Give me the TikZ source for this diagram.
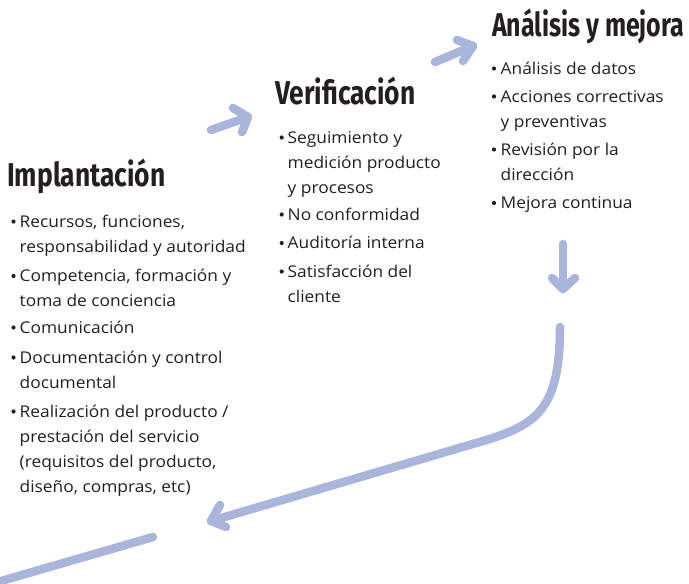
\documentclass[tikz,border=0pt]{standalone}
\usepackage{graphicx}
\usepackage{fontspec}
\setmainfont{Open Sans}[FakeStretch=1.07]
\newfontfamily\titlefont[FakeStretch=0.80]{Fira Sans}
\definecolor{arrowblue}{HTML}{A9B5DA}
\definecolor{ink}{HTML}{231F20}
\begin{document}
\begin{tikzpicture}[x=1pt,y=-1pt,
  title/.style={font=\titlefont\bfseries\fontsize{33}{33}\selectfont, text=ink, inner sep=0pt, anchor=base west},
  body/.style={font=\fontsize{16.2}{25}\selectfont, text=ink, inner sep=0pt, anchor=base west},
  dot/.style={fill=ink},
  flow/.style={draw=arrowblue, line width=8.5pt, line cap=round, line join=round}]
\useasboundingbox (0,0) rectangle (689,584);
\clip (0,0) rectangle (689,584);

% ---------- titles
\node[title] (tImp) at (7,186) {Implantación};
\node[title] (tVer) at (275,104) {Verificación};
\node[title] (tAna) at (492,36) {\scalebox{0.945}[1]{Análisis y mejora}};

% ---------- Implantación
\foreach \y in {227,281.5,333,363,417} \fill[dot] (13.5,\y-5.5) circle[radius=2.1pt];
\node[body] (i1a) at (19.5,227) {Recursos, funciones,};
\node[body] (i1b) at (19.5,252) {responsabilidad y autoridad};
\node[body] (i2a) at (19.5,281.5) {Competencia, formación y};
\node[body] (i2b) at (19.5,306.5) {toma de conciencia};
\node[body] (i3a) at (19.5,333) {Comunicación};
\node[body] (i4a) at (19.5,363) {Documentación y control};
\node[body] (i4b) at (19.5,388) {documental};
\node[body] (i5a) at (19.5,417) {Realización del producto /};
\node[body] (i5b) at (19.5,442) {prestación del servicio};
\node[body] (i5c) at (19.5,467) {(requisitos del producto,};
\node[body] (i5d) at (19.5,492) {diseño, compras, etc)};

% ---------- Verificación
\foreach \y in {143,220,248.5,277} \fill[dot] (281.7,\y-5.5) circle[radius=2.1pt];
\node[body] (v1a) at (287.5,143) {Seguimiento y};
\node[body] (v1b) at (287.5,168) {medición producto};
\node[body] (v1c) at (287.5,193) {y procesos};
\node[body] (v2a) at (287.5,220) {No conformidad};
\node[body] (v3a) at (287.5,248.5) {Auditoría interna};
\node[body] (v4a) at (287.5,277) {Satisfacción del};
\node[body] (v4b) at (287.5,302) {cliente};

% ---------- Análisis y mejora
\foreach \y in {74,102,155,208.5} \fill[dot] (494,\y-5.5) circle[radius=2.1pt];
\node[body] (a1a) at (500.5,74) {Análisis de datos};
\node[body] (a2a) at (500.5,102) {Acciones correctivas};
\node[body] (a2b) at (500.5,127) {y preventivas};
\node[body] (a3a) at (500.5,155) {Revisión por la};
\node[body] (a3b) at (500.5,180) {dirección};
\node[body] (a4a) at (500.5,208.5) {Mejora continua};

% ---------- arrows
\coordinate (As) at (211,130); \coordinate (At) at (248,117);
\coordinate (Au) at (233,108); \coordinate (Ad) at (242,132);
\draw[flow] (As) -- (At);
\draw[flow] (Au) -- (At) -- (Ad);

\coordinate (Bs) at (435,62); \coordinate (Bt) at (473,46);
\coordinate (Bu) at (457,40); \coordinate (Bd) at (463,61);
\draw[flow] (Bs) -- (Bt);
\draw[flow] (Bu) -- (Bt) -- (Bd);

\coordinate (Cs) at (563,244); \coordinate (Ct) at (563,289);
\coordinate (Cl) at (552,278); \coordinate (Cr) at (575,278);
\draw[flow] (Cs) -- (Ct);
\draw[flow] (Cl) -- (Ct) -- (Cr);

\coordinate (Ds) at (560,327); \coordinate (Dm) at (483,441);
\coordinate (Dt) at (211,521);
\coordinate (Du) at (220,505); \coordinate (Dd) at (226,527);
\draw[flow] (Ds) .. controls (560,410) and (536,425) .. (Dm) -- (Dt);
\draw[flow] (Du) -- (Dt) -- (Dd);

\coordinate (Es) at (153,537); \coordinate (Ee) at (-30,590);
\draw[flow] (Es) -- (Ee);
\end{tikzpicture}
\end{document}
